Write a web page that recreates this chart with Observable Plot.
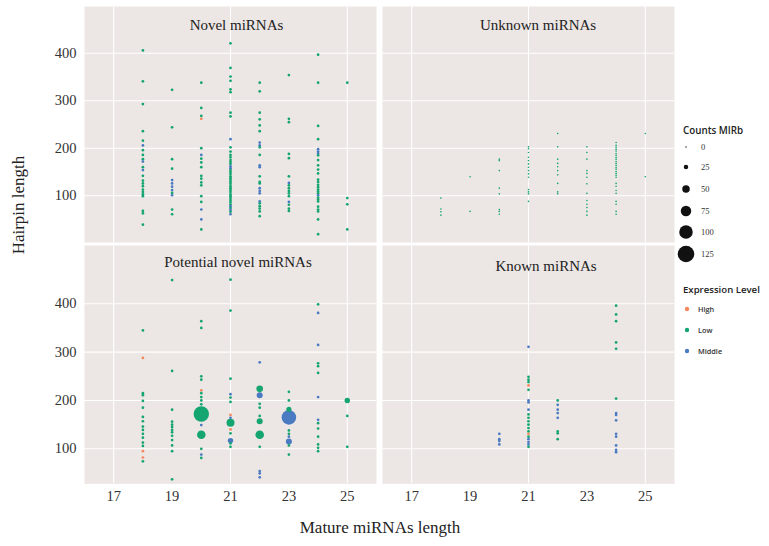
<!DOCTYPE html>
<html><head><meta charset="utf-8">
<script src="https://cdn.jsdelivr.net/npm/d3@7"></script>
<script src="https://cdn.jsdelivr.net/npm/@observablehq/plot@0.6"></script>
<style>
body{margin:0;background:#fff;}
#chart{position:relative;width:769px;height:546px;overflow:hidden;background:#fff;}
#chart > svg{position:absolute;left:0;}
.lbl{position:absolute;font-family:"Liberation Serif","Times New Roman",serif;color:#222;white-space:nowrap;font-size:17px;}
</style></head><body><div id="chart"></div>
<script>
// ---- data ----
const levels = ["High", "Low", "Middle"];
const levelColors = ["#F4875C", "#14A570", "#4A7BC2"];
const levelCodes = {H: "High", L: "Low", M: "Middle"};
const matureTicks = [17, 19, 21, 23, 25];
const matureGrid = [17, 21, 25];
const hairpinTicks = [100, 200, 300, 400];
const countLegend = [0, 25, 50, 75, 100, 125];
const panelTitles = ["Novel miRNAs", "Unknown miRNAs", "Potential novel miRNAs", "Known miRNAs"];
const smallCount = 11;   // typical count of the small dots
const tinyCount = 2;     // unknown miRNAs dots

// [mature length, hairpin length, expression level, counts MIRb]
const novel = [
 [18,406,"L"],[18,341,"L"],[18,293,"L"],[18,236,"L"],[18,216,"L"],[18,206,"M"],[18,196,"L"],[18,186,"L"],[18,177,"L"],[18,172,"M"],[18,160,"L"],[18,154,"M"],[18,142,"L"],[18,132,"L"],[18,126,"L"],[18,120,"L"],[18,113,"L"],[18,108,"L"],[18,103,"L"],[18,99,"L"],[18,68,"L"],[18,63,"L"],[18,39,"L"],
 [19,323,"L"],[19,244,"L"],[19,177,"L"],[19,157,"L"],[19,133,"M"],[19,126,"M"],[19,119,"M"],[19,112,"M"],[19,106,"L"],[19,101,"M"],[19,71,"L"],[19,61,"L"],
 [20,338,"L"],[20,285,"L"],[20,268,"L"],[20,262,"H"],[20,200,"L"],[20,186,"M"],[20,178,"L"],[20,170,"L"],[20,160,"L"],[20,142,"L"],[20,136,"L"],[20,128,"L"],[20,122,"L"],[20,99,"L"],[20,87,"L"],[20,71,"M"],[20,50,"M"],[20,29,"L"],
 [21,421,"L"],[21,369,"L"],[21,351,"L"],[21,342,"L"],[21,324,"L"],[21,318,"L"],[21,275,"L"],[21,267,"L"],[21,219,"M"],[21,202,"L"],[21,193,"L"],[21,186,"L"],[21,181,"L"],[21,175,"L"],[21,171,"L"],[21,167,"L"],[21,162,"M"],[21,158,"M"],[21,154,"L"],[21,150,"L"],[21,146,"L"],[21,141,"L"],[21,137,"L"],[21,133,"L"],[21,129,"L"],[21,125,"L"],[21,120,"L"],[21,116,"L"],[21,112,"L"],[21,108,"L"],[21,103,"L"],[21,99,"L"],[21,95,"L"],[21,91,"L"],[21,87,"L"],[21,82,"L"],[21,78,"M"],[21,74,"L"],[21,70,"M"],[21,66,"L"],[21,61,"M"],
 [22,338,"L"],[22,320,"L"],[22,275,"L"],[22,261,"L"],[22,248,"L"],[22,236,"L"],[22,212,"M"],[22,206,"M"],[22,202,"L"],[22,186,"L"],[22,164,"M"],[22,160,"M"],[22,141,"L"],[22,129,"L"],[22,126,"L"],[22,116,"M"],[22,110,"M"],[22,105,"M"],[22,88,"M"],[22,84,"L"],[22,78,"L"],[22,73,"L"],[22,67,"L"],[22,57,"L"],
 [23,354,"L"],[23,262,"L"],[23,255,"L"],[23,188,"L"],[23,179,"L"],[23,141,"L"],[23,127,"M"],[23,122,"L"],[23,116,"L"],[23,110,"L"],[23,105,"L"],[23,99,"L"],[23,87,"M"],[23,81,"L"],[23,73,"L"],[23,68,"L"],
 [24,397,"L"],[24,338,"L"],[24,247,"L"],[24,219,"L"],[24,198,"M"],[24,193,"M"],[24,189,"M"],[24,185,"L"],[24,175,"L"],[24,164,"L"],[24,155,"L"],[24,147,"L"],[24,134,"L"],[24,129,"L"],[24,123,"L"],[24,118,"L"],[24,113,"L"],[24,109,"L"],[24,105,"L"],[24,101,"M"],[24,96,"L"],[24,92,"L"],[24,88,"L"],[24,77,"L"],[24,71,"L"],[24,67,"L"],[24,50,"L"],[24,19,"L"],
 [25,338,"L"],[25,95,"L"],[25,82,"L"],[25,29,"L"]
];
const unknown = [
 [18,95,"L"],[18,72,"L"],[18,66,"L"],[18,59,"L"],
 [19,140,"L"],[19,67,"L"],
 [20,177,"L"],[20,174,"L"],[20,153,"L"],[20,116,"L"],[20,104,"L"],[20,71,"L"],[20,67,"L"],[20,61,"L"],
 [21,203,"L"],[21,199,"L"],[21,191,"L"],[21,181,"L"],[21,174,"L"],[21,167,"L"],[21,160,"L"],[21,153,"L"],[21,146,"L"],[21,139,"L"],[21,113,"L"],[21,108,"L"],[21,104,"L"],[21,88,"L"],
 [22,231,"L"],[22,203,"L"],[22,177,"L"],[22,168,"L"],[22,161,"L"],[22,153,"L"],[22,144,"L"],[22,126,"L"],[22,108,"L"],[22,104,"L"],
 [23,203,"L"],[23,191,"L"],[23,177,"L"],[23,153,"L"],[23,147,"L"],[23,139,"L"],[23,125,"L"],[23,105,"L"],[23,90,"L"],[23,82,"L"],[23,75,"L"],[23,67,"L"],[23,59,"L"],
 [24,212,"L"],[24,206,"L"],[24,202,"L"],[24,198,"L"],[24,194,"L"],[24,189,"L"],[24,185,"L"],[24,181,"L"],[24,177,"L"],[24,172,"L"],[24,168,"L"],[24,164,"L"],[24,160,"L"],[24,156,"L"],[24,151,"L"],[24,147,"L"],[24,143,"L"],[24,139,"L"],[24,126,"L"],[24,120,"L"],[24,111,"L"],[24,105,"L"],[24,88,"L"],[24,82,"L"],[24,67,"L"],[24,61,"L"],
 [25,231,"L"],[25,140,"L"]
];
const potential = [
 [18,345,"L"],[18,288,"H"],[18,215,"L"],[18,211,"L"],[18,199,"L"],[18,185,"L"],[18,166,"L"],[18,157,"L"],[18,146,"L"],[18,139,"L"],[18,131,"L"],[18,123,"L"],[18,113,"L"],[18,106,"L"],[18,95,"H"],[18,82,"H"],[18,74,"L"],
 [19,449,"L"],[19,261,"L"],[19,181,"L"],[19,156,"L"],[19,150,"L"],[19,145,"L"],[19,139,"L"],[19,134,"L"],[19,127,"L"],[19,118,"L"],[19,107,"L"],[19,95,"L"],[19,37,"L"],
 [20,364,"L"],[20,350,"L"],[20,250,"L"],[20,243,"L"],[20,221,"H"],[20,215,"L"],[20,207,"L"],[20,200,"L"],[20,192,"L"],[20,172,"L",115],[20,149,"M"],[20,129,"L",59],[20,100,"L"],[20,88,"M"],[20,81,"L"],
 [21,450,"L"],[21,386,"L"],[21,245,"L"],[21,213,"M"],[21,206,"L"],[21,197,"L"],[21,170,"H"],[21,164,"M"],[21,154,"L",54],[21,140,"H"],[21,132,"L"],[21,117,"M",33],[21,111,"L"],[21,104,"L"],
 [22,279,"M"],[22,224,"L",43],[22,211,"M",38],[22,193,"L"],[22,185,"L"],[22,168,"L"],[22,157,"L",38],[22,129,"L",59],[22,104,"L"],[22,54,"M"],[22,49,"M"],[22,41,"M"],
 [23,218,"L"],[23,200,"L"],[23,182,"L",30],[23,165,"M",108],[23,138,"L"],[23,131,"L"],[23,125,"M"],[23,115,"M",38],[23,107,"L"],[23,88,"L"],
 [24,399,"L"],[24,381,"M"],[24,315,"M"],[24,277,"L"],[24,271,"L"],[24,257,"L"],[24,207,"M"],[24,160,"M"],[24,153,"L"],[24,142,"L"],[24,125,"L"],[24,109,"L"],[24,102,"L"],[24,95,"L"],
 [25,200,"L",33],[25,168,"L"],[25,104,"L"]
];
const known = [
 [20,131,"M"],[20,120,"M"],[20,116,"M"],[20,109,"M"],
 [21,311,"M"],[21,249,"L"],[21,243,"L"],[21,238,"L"],[21,231,"H"],[21,222,"L"],[21,200,"M"],[21,196,"M"],[21,181,"M"],[21,171,"L"],[21,164,"L"],[21,157,"L"],[21,150,"L"],[21,143,"L"],[21,136,"L"],[21,131,"H"],[21,125,"L"],[21,120,"M"],[21,114,"M"],[21,109,"M"],[21,104,"L"],
 [22,200,"L"],[22,191,"M"],[22,181,"M"],[22,174,"M"],[22,164,"M"],[22,136,"L"],[22,132,"L"],[22,120,"L"],
 [24,396,"L"],[24,378,"L"],[24,364,"L"],[24,320,"L"],[24,307,"L"],[24,204,"L"],[24,174,"M"],[24,170,"M"],[24,159,"M"],[24,131,"M"],[24,125,"M"],[24,107,"M"],[24,98,"M"],[24,93,"M"]
];

// ---- drawing ----
const serif = '"Liberation Serif","Times New Roman",serif';
const sans = '"Open Sans","Noto Sans",sans-serif';
const panelBg = "#ECE6E4";
const rOpts = {type: "linear", domain: [0, 125], range: [0.7, 8.3]};
const colorOpts = {domain: levels, range: levelColors};
const rows = (arr, panel, def) => arr.map(([m, h, l, c]) => ({panel, mature: m, hairpin: h, level: levelCodes[l], count: c ?? def}));

function rowPlot({data, titles, titleDx, titleDy, yDomain, height, marginTop, marginBottom, xLabels}) {
  const marks = [
    Plot.frame({fill: panelBg, stroke: "none"}),
    Plot.ruleY(hairpinTicks, {stroke: "#fff", strokeWidth: 1.1}),
    Plot.ruleX(matureGrid, {stroke: "#fff", strokeWidth: 1.1}),
    Plot.dot(data, {x: "mature", y: "hairpin", fx: "panel", r: "count", fill: "level", stroke: "none"}),
    Plot.text(hairpinTicks, {x: 16, y: d => d, fx: () => "A", dx: -8, textAnchor: "end", fontSize: 14.5, fontFamily: serif, fill: "#333"}),
    Plot.text([titles[0]], {fx: () => "A", frameAnchor: "top", dx: titleDx[0], dy: titleDy[0], fontSize: 15, fontFamily: serif, fill: "#222"}),
    Plot.text([titles[1]], {fx: () => "B", frameAnchor: "top", dx: titleDx[1], dy: titleDy[1], fontSize: 15, fontFamily: serif, fill: "#222"})
  ];
  if (xLabels) marks.push(Plot.text(matureTicks, {x: d => d, frameAnchor: "bottom", dy: 16.7, fontSize: 14.5, fontFamily: serif, fill: "#333"}));
  return Plot.plot({
    width: 769, height, marginLeft: 84, marginRight: 94, marginTop, marginBottom,
    style: {background: "transparent", overflow: "visible"},
    fx: {domain: ["A", "B"], paddingInner: 0.0201, paddingOuter: 0, axis: null, label: null},
    x: {domain: [16, 26], axis: null},
    y: {domain: yDomain, axis: null},
    r: rOpts, color: colorOpts,
    marks
  });
}

const chart = document.getElementById("chart");
const topRow = rowPlot({
  data: [...rows(novel, "A", smallCount), ...rows(unknown, "B", tinyCount)],
  titles: [panelTitles[0], panelTitles[1]], titleDx: [6, 9.5], titleDy: [12.5, 13],
  yDomain: [1.5, 498.5], height: 242, marginTop: 6, marginBottom: 0, xLabels: false
});
topRow.style.top = "0px";
chart.appendChild(topRow);
const bottomRow = rowPlot({
  data: [...rows(potential, "A", smallCount), ...rows(known, "B", smallCount)],
  titles: [panelTitles[2], panelTitles[3]], titleDx: [7.5, 17.5], titleDy: [10.7, 15],
  yDomain: [27.6, 520.6], height: 304, marginTop: 3, marginBottom: 62.7, xLabels: true
});
bottomRow.style.top = "242px";
chart.appendChild(bottomRow);

// axis titles
const xt = document.createElement("div");
xt.className = "lbl"; xt.textContent = "Mature miRNAs length";
xt.style.left = "380px"; xt.style.top = "528px"; xt.style.transform = "translate(-50%,-50%)";
chart.appendChild(xt);
const yt = document.createElement("div");
yt.className = "lbl"; yt.textContent = "Hairpin length";
yt.style.left = "19px"; yt.style.top = "205px"; yt.style.transform = "translate(-50%,-50%) rotate(-90deg)";
chart.appendChild(yt);

// legends
const rScale = Plot.scale({r: rOpts});
const lg = d3.select(chart).append("svg").attr("width", 95).attr("height", 260)
  .style("position", "absolute").style("left", "674px").style("top", "110px");
lg.append("text").attr("x", 9).attr("y", 24).attr("font-family", sans).attr("font-weight", 600)
  .attr("font-size", 9.8).attr("fill", "#222").text("Counts MIRb");
const sizeY = [37, 57, 79, 101, 122, 144];
countLegend.forEach((v, i) => {
  lg.append("circle").attr("cx", 12).attr("cy", sizeY[i]).attr("r", rScale.apply(v)).attr("fill", "#111");
  lg.append("text").attr("x", 27).attr("y", sizeY[i] + 3).attr("font-family", serif).attr("font-size", 8.5)
    .attr("fill", "#333").text(v);
});
lg.append("text").attr("x", 9).attr("y", 183).attr("font-family", sans).attr("font-weight", 600)
  .attr("font-size", 9.6).attr("fill", "#222").text("Expression Level");
const colY = [199, 220, 241];
levels.forEach((lv, i) => {
  lg.append("circle").attr("cx", 13).attr("cy", colY[i]).attr("r", 2.2).attr("fill", levelColors[i]);
  lg.append("text").attr("x", 24).attr("y", colY[i] + 2.5).attr("font-family", sans).attr("font-weight", 600)
    .attr("font-size", 7.3).attr("fill", "#333").text(lv);
});
</script></body></html>
